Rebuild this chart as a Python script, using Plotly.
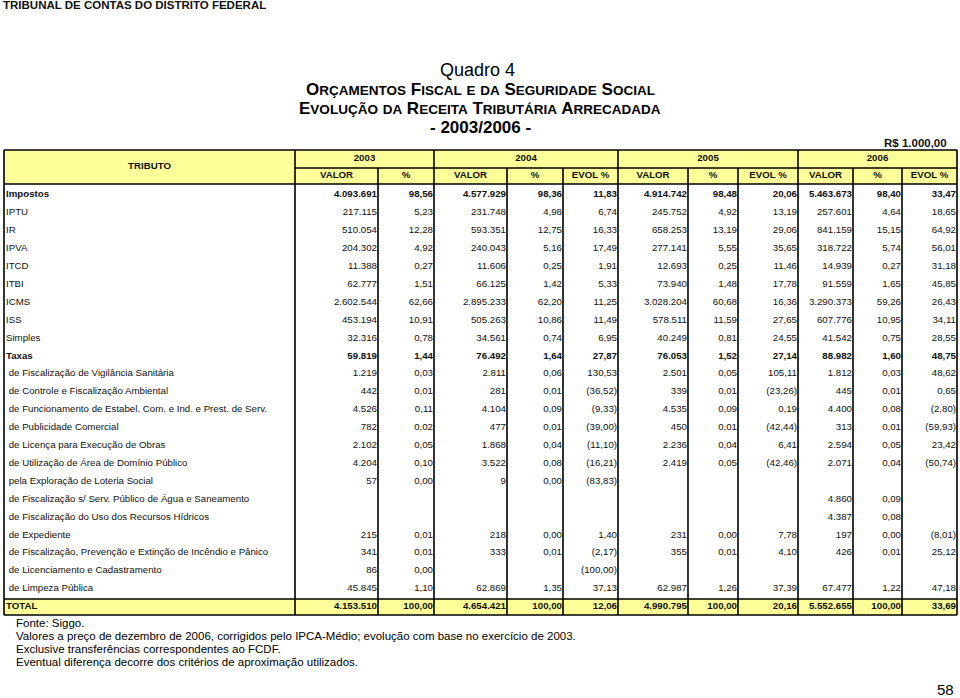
import plotly.graph_objects as go
import numpy as np

# ---------------- data ----------------
tributos = [
    "Impostos", "IPTU", "IR", "IPVA", "ITCD", "ITBI", "ICMS", "ISS", "Simples", "Taxas",
    " de Fiscalização de Vigilância Sanitária",
    " de Controle e Fiscalização Ambiental",
    " de Funcionamento de Estabel. Com. e Ind. e Prest. de Serv.",
    " de Publicidade Comercial",
    " de Licença para Execução de Obras",
    " de Utilização de Área de Domínio Público",
    " pela Exploração de Loteria Social",
    " de Fiscalização s/ Serv. Público de Água e Saneamento",
    " de Fiscalização do Uso dos Recursos Hídricos",
    " de Expediente",
    " de Fiscalização, Prevenção e Extinção de Incêndio e Pânico",
    " de Licenciamento e Cadastramento",
    " de Limpeza Pública",
    "TOTAL",
]
bold_rows = ["Impostos", "Taxas", "TOTAL"]

valor_2003 = [4093691, 217115, 510054, 204302, 11388, 62777, 2602544, 453194, 32316, 59819,
              1219, 442, 4526, 782, 2102, 4204, 57, None, None, 215, 341, 86, 45845, 4153510]
pct_2003 = [98.56, 5.23, 12.28, 4.92, 0.27, 1.51, 62.66, 10.91, 0.78, 1.44,
            0.03, 0.01, 0.11, 0.02, 0.05, 0.10, 0.00, None, None, 0.01, 0.01, 0.00, 1.10, 100.00]
valor_2004 = [4577929, 231748, 593351, 240043, 11606, 66125, 2895233, 505263, 34561, 76492,
              2811, 281, 4104, 477, 1868, 3522, 9, None, None, 218, 333, None, 62869, 4654421]
pct_2004 = [98.36, 4.98, 12.75, 5.16, 0.25, 1.42, 62.20, 10.86, 0.74, 1.64,
            0.06, 0.01, 0.09, 0.01, 0.04, 0.08, 0.00, None, None, 0.00, 0.01, None, 1.35, 100.00]
evol_2004 = [11.83, 6.74, 16.33, 17.49, 1.91, 5.33, 11.25, 11.49, 6.95, 27.87,
             130.53, -36.52, -9.33, -39.00, -11.10, -16.21, -83.83, None, None, 1.40, -2.17, -100.00, 37.13, 12.06]
valor_2005 = [4914742, 245752, 658253, 277141, 12693, 73940, 3028204, 578511, 40249, 76053,
              2501, 339, 4535, 450, 2236, 2419, None, None, None, 231, 355, None, 62987, 4990795]
pct_2005 = [98.48, 4.92, 13.19, 5.55, 0.25, 1.48, 60.68, 11.59, 0.81, 1.52,
            0.05, 0.01, 0.09, 0.01, 0.04, 0.05, None, None, None, 0.00, 0.01, None, 1.26, 100.00]
evol_2005 = [20.06, 13.19, 29.06, 35.65, 11.46, 17.78, 16.36, 27.65, 24.55, 27.14,
             105.11, -23.26, 0.19, -42.44, 6.41, -42.46, None, None, None, 7.78, 4.10, None, 37.39, 20.16]
valor_2006 = [5463673, 257601, 841159, 318722, 14939, 91559, 3290373, 607776, 41542, 88982,
              1812, 445, 4400, 313, 2594, 2071, None, 4860, 4387, 197, 426, None, 67477, 5552655]
pct_2006 = [98.40, 4.64, 15.15, 5.74, 0.27, 1.65, 59.26, 10.95, 0.75, 1.60,
            0.03, 0.01, 0.08, 0.01, 0.05, 0.04, None, 0.09, 0.08, 0.00, 0.01, None, 1.22, 100.00]
evol_2006 = [33.47, 18.65, 64.92, 56.01, 31.18, 45.85, 26.43, 34.11, 28.55, 48.75,
             48.62, 0.65, -2.80, -59.93, 23.42, -50.74, None, None, None, -8.01, 25.12, None, 47.18, 33.69]

anos = ["2003", "2004", "2005", "2006"]
sub_headers = ["VALOR", "%", "VALOR", "%", "EVOL %", "VALOR", "%", "EVOL %", "VALOR", "%", "EVOL %"]

columns = [valor_2003, pct_2003, valor_2004, pct_2004, evol_2004,
           valor_2005, pct_2005, evol_2005, valor_2006, pct_2006, evol_2006]

# ---------------- layout helpers ----------------
bounds = [4, 295, 378, 434, 507, 563, 618, 688, 738, 798, 853, 902, 957]
year_spans = [(1, 3), (3, 6), (6, 9), (9, 12)]
top, mid, hdr_bot = 150, 168, 184
row0, row_h = 195, 17.9
tot_top, tab_bot = 599, 615
FONT = "Arial, Liberation Sans, Helvetica, sans-serif"
YELLOW = "#FFFF99"
BODY = 9.7
row_y = row0 + row_h * np.arange(len(tributos))


def fmt(v):
    if v is None:
        return ""
    if isinstance(v, int):
        return f"{v:,}".replace(",", ".")
    s = f"{abs(v):,.2f}".replace(",", "X").replace(".", ",").replace("X", ".")
    return f"({s})" if v < 0 else s


def b(s, is_bold):
    return f"<b>{s}</b>" if (is_bold and s) else s


fig = go.Figure()

# body labels
fig.add_trace(go.Scatter(
    x=[bounds[0] + 2] * len(tributos), y=row_y,
    text=[b(t, t in bold_rows) for t in tributos],
    mode="text", textposition="middle right",
    textfont=dict(family=FONT, size=BODY, color="#111"),
    hoverinfo="skip", showlegend=False))

# body numbers
for ci, col in enumerate(columns):
    fig.add_trace(go.Scatter(
        x=[bounds[ci + 2] - 1] * len(col), y=row_y,
        text=[b(fmt(v), tributos[i] in bold_rows) for i, v in enumerate(col)],
        mode="text", textposition="middle left",
        textfont=dict(family=FONT, size=BODY, color="#111"),
        hoverinfo="skip", showlegend=False))

# header
fig.add_trace(go.Scatter(
    x=[(bounds[a] + bounds[c]) / 2 for a, c in year_spans],
    y=[(top + mid) / 2] * 4,
    text=[f"<b>{a}</b>" for a in anos],
    mode="text", textposition="middle center",
    textfont=dict(family=FONT, size=BODY, color="#111"),
    hoverinfo="skip", showlegend=False))
fig.add_trace(go.Scatter(
    x=[(bounds[i + 1] + bounds[i + 2]) / 2 for i in range(len(sub_headers))],
    y=[(mid + hdr_bot) / 2] * len(sub_headers),
    text=[f"<b>{s}</b>" for s in sub_headers],
    mode="text", textposition="middle center",
    textfont=dict(family=FONT, size=BODY, color="#111"),
    hoverinfo="skip", showlegend=False))
fig.add_trace(go.Scatter(
    x=[(bounds[0] + bounds[1]) / 2], y=[(top + hdr_bot) / 2],
    text=["<b>TRIBUTO</b>"], mode="text", textposition="middle center",
    textfont=dict(family=FONT, size=BODY, color="#111"),
    hoverinfo="skip", showlegend=False))

# ---------------- shapes ----------------
shapes = []
shapes.append(dict(type="rect", x0=bounds[0], x1=bounds[-1], y0=top, y1=hdr_bot,
                   fillcolor=YELLOW, line_width=0, layer="below"))
shapes.append(dict(type="rect", x0=bounds[0], x1=bounds[-1], y0=tot_top, y1=tab_bot,
                   fillcolor=YELLOW, line_width=0, layer="below"))
group_edges = {bounds[a] for a, _ in year_spans} | {bounds[0], bounds[1], bounds[-1]}
for xb in bounds:
    y0 = top if xb in group_edges else mid
    shapes.append(dict(type="line", x0=xb, x1=xb, y0=y0, y1=tab_bot,
                       line=dict(color="#000", width=1.6)))
for (x0, x1, yy) in [(bounds[0], bounds[-1], top), (bounds[1], bounds[-1], mid),
                     (bounds[0], bounds[-1], hdr_bot), (bounds[0], bounds[-1], tot_top),
                     (bounds[0], bounds[-1], tab_bot)]:
    shapes.append(dict(type="line", x0=x0, x1=x1, y0=yy, y1=yy,
                       line=dict(color="#000", width=1.6)))


def small_caps(text, big, small):
    out = []
    for ch in text:
        if ch.islower():
            out.append(f"<span style='font-size:{small}px'>{ch.upper()}</span>")
        else:
            out.append(f"<span style='font-size:{big}px'>{ch}</span>")
    return "".join(out)


annotations = [
    dict(x=1, y=5, text="<b>TRIBUNAL DE CONTAS DO DISTRITO FEDERAL</b>", xanchor="left",
         yanchor="middle", font=dict(family=FONT, size=11.5, color="#111")),
    dict(x=477, y=70, text="Quadro 4", xanchor="center", yanchor="middle",
         font=dict(family=FONT, size=18, color="#000")),
    dict(x=480, y=89, text="<b>" + small_caps("Orçamentos Fiscal e da Seguridade Social", 17, 13.5) + "</b>",
         xanchor="center", yanchor="middle", font=dict(family=FONT, size=17, color="#000")),
    dict(x=480, y=108, text="<b>" + small_caps("Evolução da Receita Tributária Arrecadada", 17, 13.5) + "</b>",
         xanchor="center", yanchor="middle", font=dict(family=FONT, size=17, color="#000")),
    dict(x=480, y=127, text="<b>- 2003/2006 -</b>", xanchor="center", yanchor="middle",
         font=dict(family=FONT, size=17, color="#000")),
    dict(x=949, y=143, text="<b>R$ 1.000,00</b>", xanchor="right", yanchor="middle",
         font=dict(family=FONT, size=11.5, color="#111")),
    dict(x=14, y=623, text="Fonte: Siggo.", xanchor="left", yanchor="middle",
         font=dict(family=FONT, size=11.5, color="#000")),
    dict(x=14, y=636, text="Valores a preço de dezembro de 2006, corrigidos pelo IPCA-Médio; evolução com base no exercício de 2003.",
         xanchor="left", yanchor="middle", font=dict(family=FONT, size=11.5, color="#000")),
    dict(x=14, y=649, text="Exclusive transferências correspondentes ao FCDF.", xanchor="left",
         yanchor="middle", font=dict(family=FONT, size=11.5, color="#000")),
    dict(x=14, y=662, text="Eventual diferença decorre dos critérios de aproximação utilizados.",
         xanchor="left", yanchor="middle", font=dict(family=FONT, size=11.5, color="#000")),
    dict(x=956, y=689, text="58", xanchor="right", yanchor="middle",
         font=dict(family=FONT, size=15, color="#000")),
]
for a in annotations:
    a.update(xref="x", yref="y", showarrow=False)

fig.update_layout(
    width=960, height=698, margin=dict(l=0, r=0, t=0, b=0),
    paper_bgcolor="white", plot_bgcolor="white",
    xaxis=dict(range=[0, 960], visible=False, fixedrange=True),
    yaxis=dict(range=[698, 0], visible=False, fixedrange=True),
    shapes=shapes, annotations=annotations, showlegend=False,
)

# remove the default 8px page margin so the figure fills the window exactly
fig.write_html("out.html",
               config={"displayModeBar": False, "staticPlot": True},
               post_script="document.body.style.margin='0';document.body.style.overflow='hidden';")
